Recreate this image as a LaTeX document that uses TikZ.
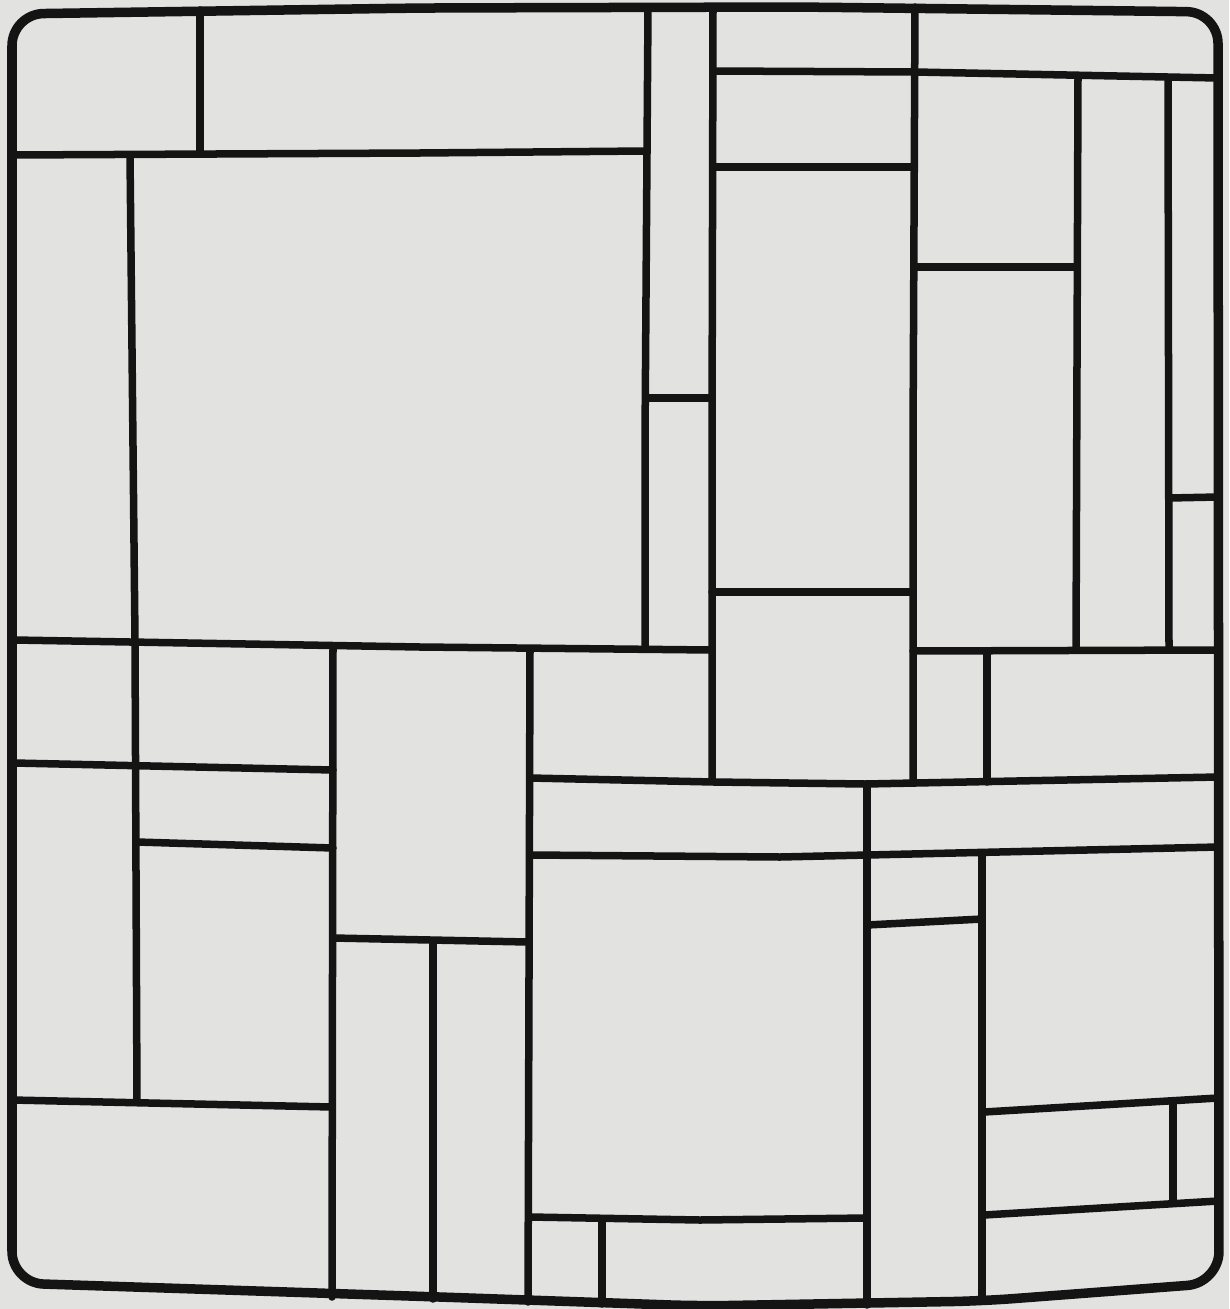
\documentclass[tikz,border=0pt]{standalone}
\definecolor{paper}{RGB}{226,226,225}
\definecolor{ink}{RGB}{20,20,20}
\tikzset{pen/.style={draw=ink,line width=0.075cm,line cap=round,line join=round},
         frame/.style={draw=ink,line width=0.095cm,line cap=round,line join=round}}
\begin{document}
\begin{tikzpicture}[x=0.01cm,y=-0.01cm]
\fill[paper] (0,0) rectangle (1229,1309);
\useasboundingbox (0,0) rectangle (1229,1309);
% outer frame
\draw[frame,rounded corners=9] (12,1283) -- (12,14) -- (420,8) -- (800,7) -- (1218,12) -- (1219,1283) -- (982,1301) -- (700,1306) -- (440,1297) -- cycle;
% top-left
\draw[pen] (200,10) -- (200,153);
\draw[pen] (12,155) -- (420,153) -- (646,151);
\draw[pen] (130,155) -- (135,640) -- (137,1102);
% central verticals
\draw[pen] (648,8) -- (645,440) -- (645,649);
\draw[pen] (713,8) -- (712,440) -- (712,781);
\draw[pen] (648,398) -- (712,398);
% upper right
\draw[pen] (713,71) -- (915,72) -- (1218,78);
\draw[pen] (915,7) -- (913,440) -- (913,783);
\draw[pen] (713,167) -- (913,167);
\draw[pen] (712,592) -- (913,592);
\draw[pen] (1078,76) -- (1076,650);
\draw[pen] (1168,78) -- (1169,650);
\draw[pen] (915,267) -- (1076,267);
\draw[pen] (1169,498) -- (1218,497);
\draw[pen] (913,651) -- (1218,650);
\draw[pen] (987,651) -- (987,782);
% middle left
\draw[pen] (14,640) -- (420,647) -- (712,650);
\draw[pen] (333,648) -- (332,1297);
\draw[pen] (14,763) -- (333,770);
\draw[pen] (137,842) -- (333,848);
\draw[pen] (12,1100) -- (332,1107);
% middle
\draw[pen] (530,650) -- (528,1302);
\draw[pen] (333,938) -- (528,942);
\draw[pen] (433,942) -- (433,1299);
\draw[pen] (530,778) -- (714,782) -- (865,784) -- (1218,777);
\draw[pen] (530,855) -- (780,857) -- (1218,847);
% lower right
\draw[pen] (867,784) -- (867,1305);
\draw[pen] (982,855) -- (982,1301);
\draw[pen] (867,925) -- (982,919);
\draw[pen] (530,1217) -- (700,1220) -- (867,1218);
\draw[pen] (602,1220) -- (602,1304);
\draw[pen] (984,1112) -- (1218,1098);
\draw[pen] (1173,1104) -- (1173,1200);
\draw[pen] (984,1215) -- (1218,1201);
\end{tikzpicture}
\end{document}
